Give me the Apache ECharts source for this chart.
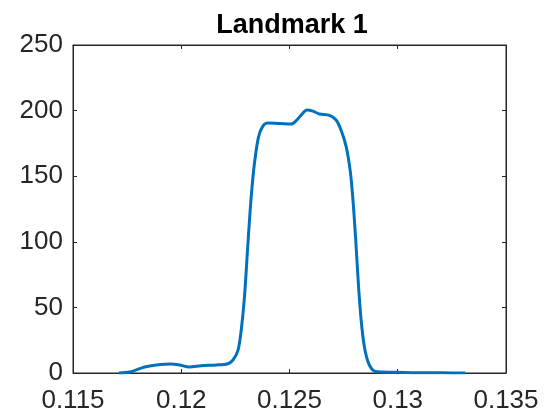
<!DOCTYPE html>
<html>
<head>
<meta charset="utf-8">
<script src="https://cdn.jsdelivr.net/npm/echarts@6/dist/echarts.min.js"></script>
<style>html,body{margin:0;padding:0;background:#fff;}#chart{width:560px;height:420px;}</style>
</head>
<body>
<div id="chart"></div>
<script>
var titleText = "Landmark 1";
var xValues = [0.11712, 0.11762, 0.11831, 0.11885, 0.11954, 0.11992, 0.12038, 0.12092, 0.12162, 0.12215,
  0.12238, 0.12262, 0.12277, 0.12292, 0.12308, 0.12323, 0.12338, 0.12357, 0.12377, 0.12400,
  0.12454, 0.12508, 0.12531, 0.12554, 0.12580, 0.12608, 0.12638, 0.12685, 0.12715, 0.12738,
  0.12762, 0.12780, 0.12792, 0.12805, 0.12818, 0.12831, 0.12846, 0.12866, 0.12892, 0.12931,
  0.13000, 0.13131, 0.13208, 0.13312];
var yValues = [0, 0.8, 4.6, 6.1, 6.9, 6.1, 4.6, 5.6, 6.1, 7.1,
  9.7, 17.3, 32.6, 58, 98.7, 134, 159.7, 180, 188.2, 190.5,
  190.2, 189.7, 192.3, 196.6, 200.4, 199.6, 197.4, 196.3, 192.8, 185.2,
  172.4, 154.6, 134.3, 103.8, 68.2, 40.2, 19.8, 7.1, 1.5, 0.8,
  0.5, 0.1, 0.1, 0];
var xTicks = [0.115, 0.12, 0.125, 0.13, 0.135];
var yTicks = [0, 50, 100, 150, 200, 250];

var pts = xValues.map(function (x, i) { return [x, yValues[i]]; });
var axisColor = '#262626';
var fontFam = 'Liberation Sans, Arial, Helvetica, sans-serif';

function baseX(show) {
  return {
    type: 'value', min: xTicks[0], max: xTicks[xTicks.length - 1], interval: 0.005,
    axisLine: { show: true, onZero: false, lineStyle: { color: axisColor, width: 1 } },
    axisTick: { show: true, inside: true, length: 4, lineStyle: { color: axisColor } },
    splitLine: { show: false },
    axisLabel: {
      show: show, color: axisColor, fontSize: 26, fontFamily: fontFam, margin: 15,
      formatter: function (v) { return String(parseFloat(v.toFixed(3))); }
    }
  };
}
function baseY(show) {
  return {
    type: 'value', min: yTicks[0], max: yTicks[yTicks.length - 1], interval: 50,
    axisLine: { show: true, onZero: false, lineStyle: { color: axisColor, width: 1 } },
    axisTick: { show: true, inside: true, length: 4, lineStyle: { color: axisColor } },
    splitLine: { show: false },
    axisLabel: { show: show, color: axisColor, fontSize: 26, fontFamily: fontFam, margin: 10 }
  };
}
var xb = baseX(true); xb.position = 'bottom';
var xt = baseX(false); xt.position = 'top';
var yl = baseY(true); yl.position = 'left';
var yr = baseY(false); yr.position = 'right';

var chart = echarts.init(document.getElementById('chart'), null, { renderer: 'canvas' });
chart.setOption({
  animation: false,
  backgroundColor: '#ffffff',
  title: {
    text: titleText, left: 292, top: 12, textAlign: 'center', padding: 0,
    textStyle: { fontSize: 27, fontWeight: 'bold', color: '#000', fontFamily: fontFam }
  },
  grid: {
    left: 73, right: 54, top: 45, bottom: 47, containLabel: false,
    show: true, borderColor: axisColor, borderWidth: 1, backgroundColor: 'transparent'
  },
  xAxis: [xb, xt],
  yAxis: [yl, yr],
  series: [{
    type: 'line', data: pts, xAxisIndex: 0, yAxisIndex: 0,
    smooth: 0.3, symbol: 'none',
    lineStyle: { color: '#0072BD', width: 3 }
  }]
});
</script>
</body>
</html>
